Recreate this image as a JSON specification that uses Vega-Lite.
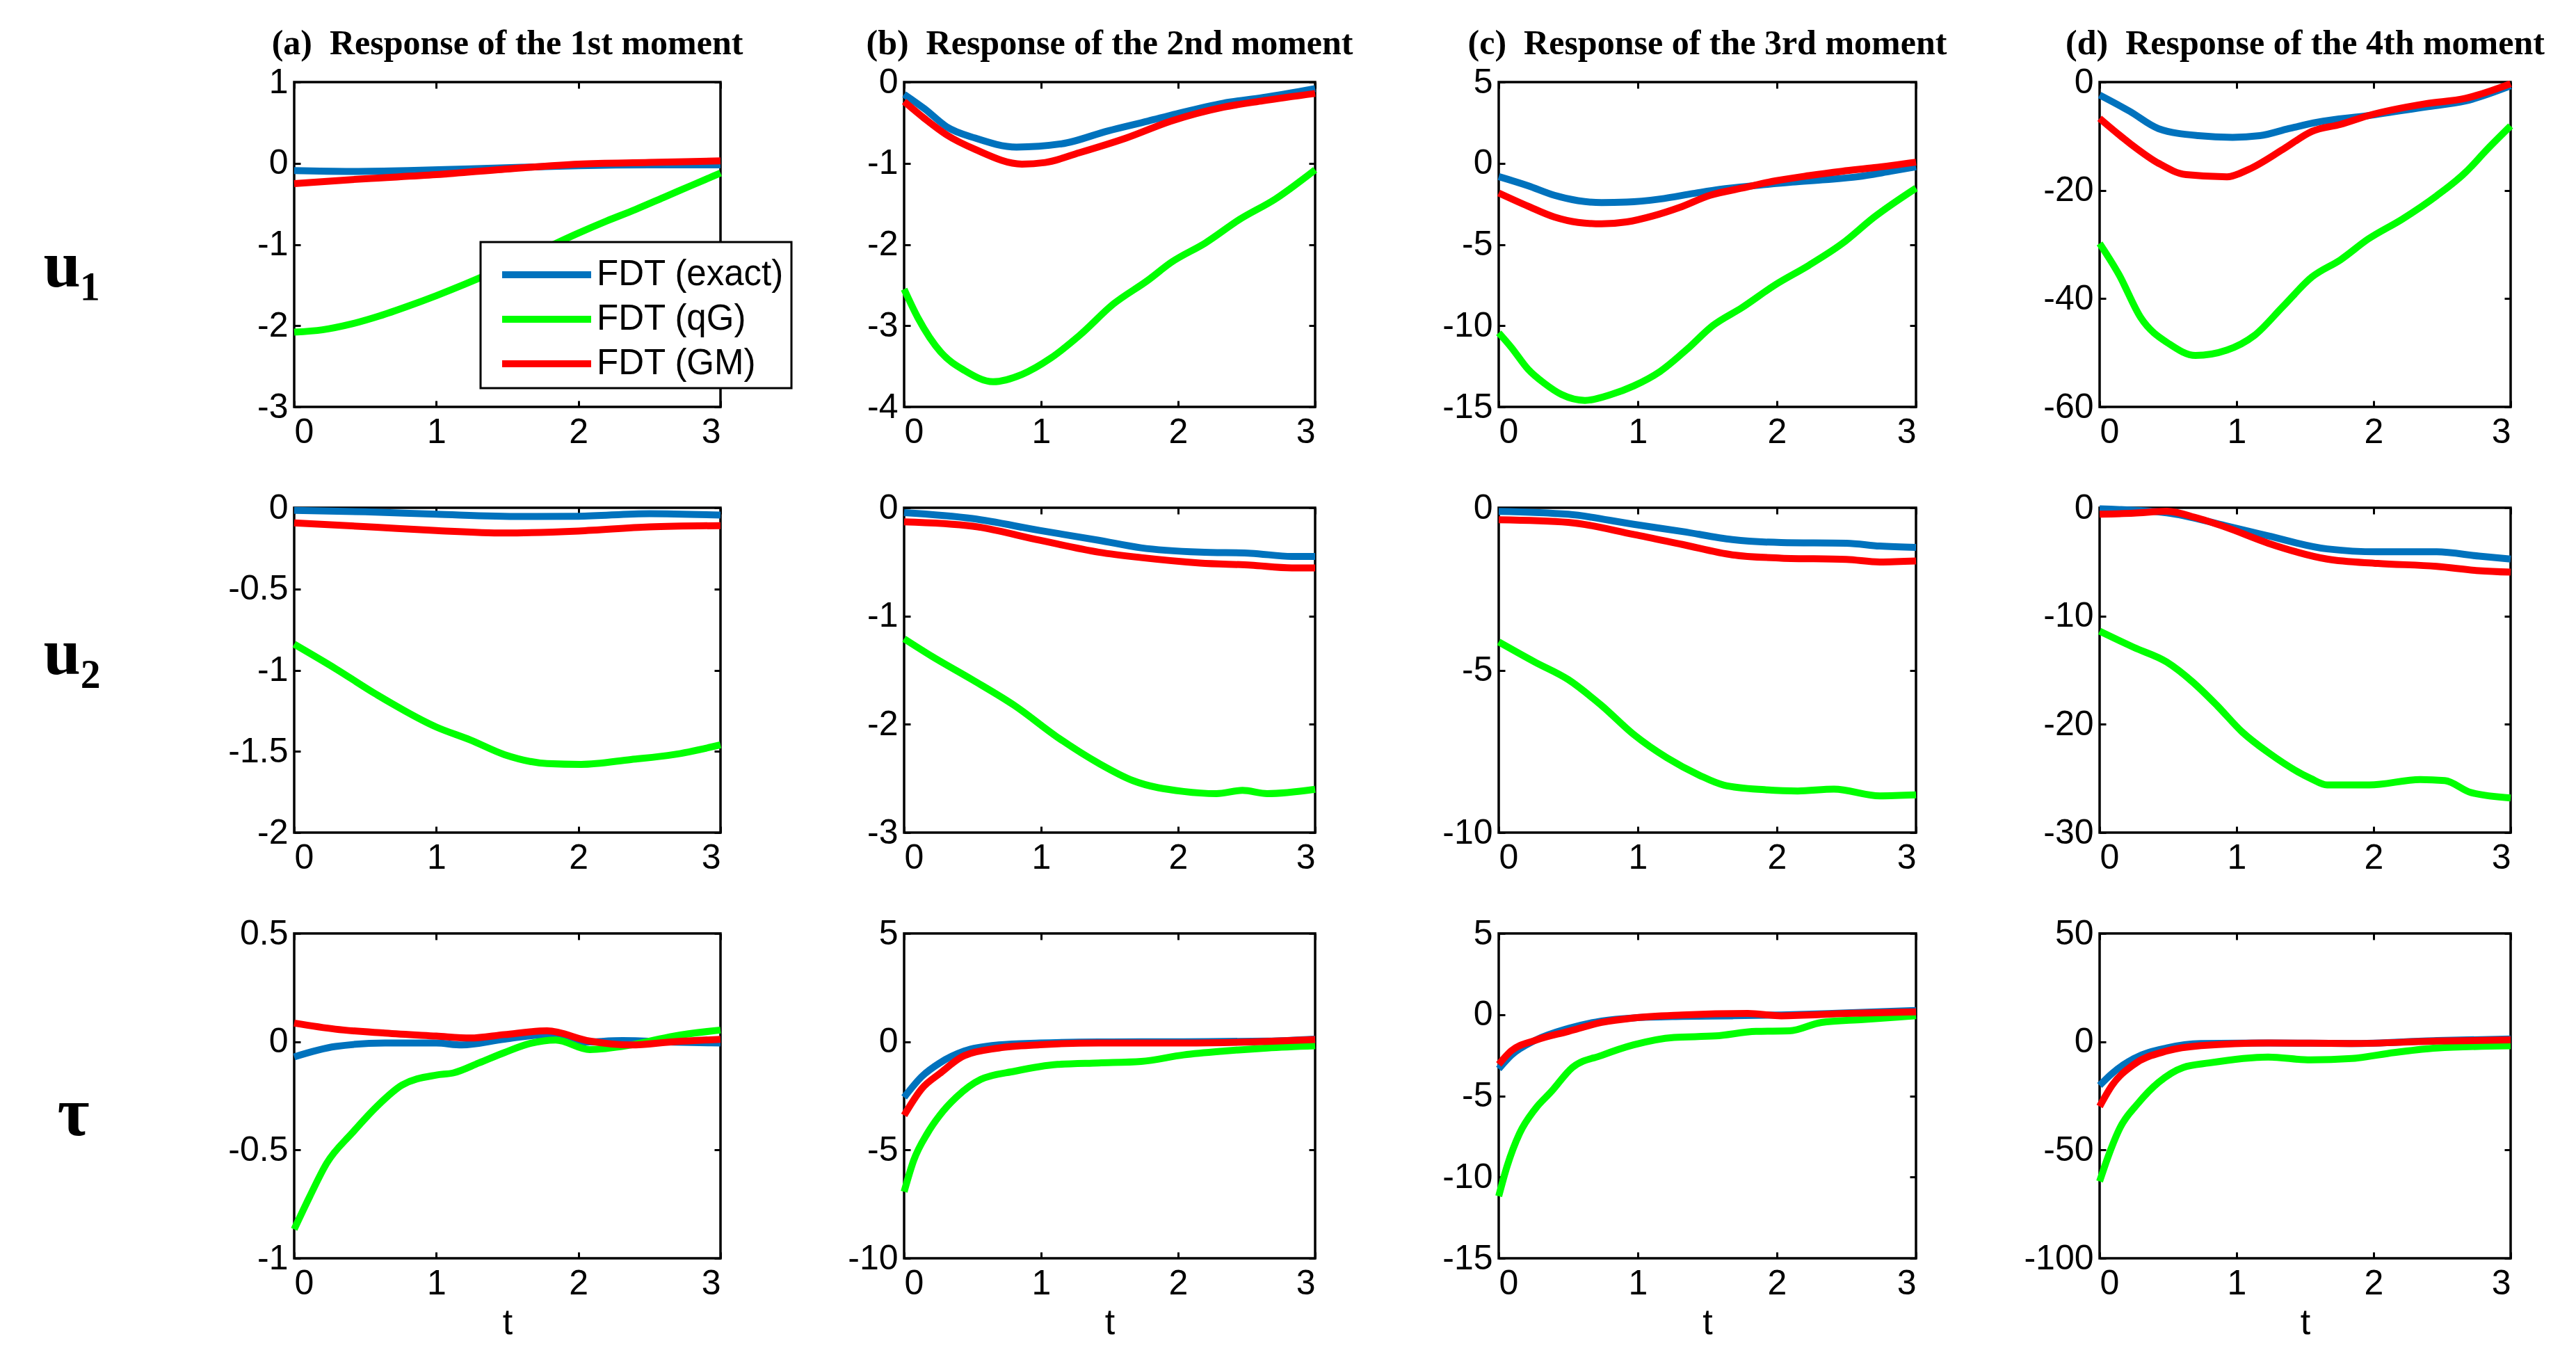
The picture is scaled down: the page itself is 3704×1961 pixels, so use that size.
{
"$schema": "https://vega.github.io/schema/vega-lite/v6.json",
"background": "white",
"padding": {"left": 60, "top": 36, "right": 20, "bottom": 20},
"columns": 4,
"spacing": {"row": 145, "column": 264},
"bounds": "flush",
"data": {"values": [
{"p":"a1","s":"FDT (exact)","t":0,"v":-0.09},{"p":"a1","s":"FDT (exact)","t":0.4,"v":-0.1},{"p":"a1","s":"FDT (exact)","t":0.8,"v":-0.09},{"p":"a1","s":"FDT (exact)","t":1.2,"v":-0.07},{"p":"a1","s":"FDT (exact)","t":1.6,"v":-0.05},{"p":"a1","s":"FDT (exact)","t":2,"v":-0.03},{"p":"a1","s":"FDT (exact)","t":2.5,"v":-0.02},{"p":"a1","s":"FDT (exact)","t":3,"v":-0.02},
{"p":"a1","s":"FDT (qG)","t":0,"v":-2.08},{"p":"a1","s":"FDT (qG)","t":0.2,"v":-2.05},{"p":"a1","s":"FDT (qG)","t":0.4,"v":-1.98},{"p":"a1","s":"FDT (qG)","t":0.6,"v":-1.88},{"p":"a1","s":"FDT (qG)","t":0.8,"v":-1.76},{"p":"a1","s":"FDT (qG)","t":1,"v":-1.63},{"p":"a1","s":"FDT (qG)","t":1.2,"v":-1.49},{"p":"a1","s":"FDT (qG)","t":1.4,"v":-1.34},{"p":"a1","s":"FDT (qG)","t":1.6,"v":-1.18},{"p":"a1","s":"FDT (qG)","t":1.8,"v":-1.02},{"p":"a1","s":"FDT (qG)","t":2,"v":-0.86},{"p":"a1","s":"FDT (qG)","t":2.2,"v":-0.71},{"p":"a1","s":"FDT (qG)","t":2.4,"v":-0.57},{"p":"a1","s":"FDT (qG)","t":2.6,"v":-0.42},{"p":"a1","s":"FDT (qG)","t":2.8,"v":-0.27},{"p":"a1","s":"FDT (qG)","t":3,"v":-0.12},
{"p":"a1","s":"FDT (GM)","t":0,"v":-0.25},{"p":"a1","s":"FDT (GM)","t":0.5,"v":-0.19},{"p":"a1","s":"FDT (GM)","t":1,"v":-0.14},{"p":"a1","s":"FDT (GM)","t":1.5,"v":-0.07},{"p":"a1","s":"FDT (GM)","t":2,"v":-0.01},{"p":"a1","s":"FDT (GM)","t":2.5,"v":0.01},{"p":"a1","s":"FDT (GM)","t":3,"v":0.03},

{"p":"b1","s":"FDT (exact)","t":0,"v":-0.15},{"p":"b1","s":"FDT (exact)","t":0.15,"v":-0.33},{"p":"b1","s":"FDT (exact)","t":0.31,"v":-0.55},{"p":"b1","s":"FDT (exact)","t":0.52,"v":-0.69},{"p":"b1","s":"FDT (exact)","t":0.82,"v":-0.8},{"p":"b1","s":"FDT (exact)","t":1.15,"v":-0.76},{"p":"b1","s":"FDT (exact)","t":1.49,"v":-0.6},{"p":"b1","s":"FDT (exact)","t":1.78,"v":-0.48},{"p":"b1","s":"FDT (exact)","t":1.99,"v":-0.39},{"p":"b1","s":"FDT (exact)","t":2.33,"v":-0.26},{"p":"b1","s":"FDT (exact)","t":2.62,"v":-0.19},{"p":"b1","s":"FDT (exact)","t":3,"v":-0.08},
{"p":"b1","s":"FDT (qG)","t":0,"v":-2.55},{"p":"b1","s":"FDT (qG)","t":0.1,"v":-2.9},{"p":"b1","s":"FDT (qG)","t":0.27,"v":-3.33},{"p":"b1","s":"FDT (qG)","t":0.44,"v":-3.55},{"p":"b1","s":"FDT (qG)","t":0.65,"v":-3.69},{"p":"b1","s":"FDT (qG)","t":0.86,"v":-3.6},{"p":"b1","s":"FDT (qG)","t":1.07,"v":-3.4},{"p":"b1","s":"FDT (qG)","t":1.28,"v":-3.12},{"p":"b1","s":"FDT (qG)","t":1.53,"v":-2.73},{"p":"b1","s":"FDT (qG)","t":1.78,"v":-2.44},{"p":"b1","s":"FDT (qG)","t":1.95,"v":-2.22},{"p":"b1","s":"FDT (qG)","t":2.2,"v":-1.98},{"p":"b1","s":"FDT (qG)","t":2.45,"v":-1.69},{"p":"b1","s":"FDT (qG)","t":2.71,"v":-1.44},{"p":"b1","s":"FDT (qG)","t":3,"v":-1.08},
{"p":"b1","s":"FDT (GM)","t":0,"v":-0.24},{"p":"b1","s":"FDT (GM)","t":0.15,"v":-0.45},{"p":"b1","s":"FDT (GM)","t":0.31,"v":-0.65},{"p":"b1","s":"FDT (GM)","t":0.52,"v":-0.83},{"p":"b1","s":"FDT (GM)","t":0.86,"v":-1.01},{"p":"b1","s":"FDT (GM)","t":1.03,"v":-0.99},{"p":"b1","s":"FDT (GM)","t":1.28,"v":-0.87},{"p":"b1","s":"FDT (GM)","t":1.62,"v":-0.69},{"p":"b1","s":"FDT (GM)","t":1.95,"v":-0.48},{"p":"b1","s":"FDT (GM)","t":2.33,"v":-0.31},{"p":"b1","s":"FDT (GM)","t":2.62,"v":-0.23},{"p":"b1","s":"FDT (GM)","t":3,"v":-0.14},

{"p":"c1","s":"FDT (exact)","t":0,"v":-0.82},{"p":"c1","s":"FDT (exact)","t":0.21,"v":-1.38},{"p":"c1","s":"FDT (exact)","t":0.4,"v":-1.97},{"p":"c1","s":"FDT (exact)","t":0.57,"v":-2.3},{"p":"c1","s":"FDT (exact)","t":0.74,"v":-2.42},{"p":"c1","s":"FDT (exact)","t":0.92,"v":-2.39},{"p":"c1","s":"FDT (exact)","t":1.16,"v":-2.2},{"p":"c1","s":"FDT (exact)","t":1.4,"v":-1.86},{"p":"c1","s":"FDT (exact)","t":1.59,"v":-1.6},{"p":"c1","s":"FDT (exact)","t":1.87,"v":-1.35},{"p":"c1","s":"FDT (exact)","t":2.11,"v":-1.16},{"p":"c1","s":"FDT (exact)","t":2.35,"v":-1.01},{"p":"c1","s":"FDT (exact)","t":2.58,"v":-0.83},{"p":"c1","s":"FDT (exact)","t":2.82,"v":-0.49},{"p":"c1","s":"FDT (exact)","t":3,"v":-0.22},
{"p":"c1","s":"FDT (qG)","t":0,"v":-10.44},{"p":"c1","s":"FDT (qG)","t":0.09,"v":-11.33},{"p":"c1","s":"FDT (qG)","t":0.21,"v":-12.67},{"p":"c1","s":"FDT (qG)","t":0.33,"v":-13.56},{"p":"c1","s":"FDT (qG)","t":0.45,"v":-14.23},{"p":"c1","s":"FDT (qG)","t":0.62,"v":-14.6},{"p":"c1","s":"FDT (qG)","t":0.81,"v":-14.23},{"p":"c1","s":"FDT (qG)","t":0.97,"v":-13.71},{"p":"c1","s":"FDT (qG)","t":1.16,"v":-12.82},{"p":"c1","s":"FDT (qG)","t":1.35,"v":-11.48},{"p":"c1","s":"FDT (qG)","t":1.54,"v":-9.99},{"p":"c1","s":"FDT (qG)","t":1.75,"v":-8.88},{"p":"c1","s":"FDT (qG)","t":1.99,"v":-7.47},{"p":"c1","s":"FDT (qG)","t":2.23,"v":-6.28},{"p":"c1","s":"FDT (qG)","t":2.47,"v":-4.94},{"p":"c1","s":"FDT (qG)","t":2.7,"v":-3.31},{"p":"c1","s":"FDT (qG)","t":3,"v":-1.53},
{"p":"c1","s":"FDT (GM)","t":0,"v":-1.83},{"p":"c1","s":"FDT (GM)","t":0.21,"v":-2.64},{"p":"c1","s":"FDT (GM)","t":0.4,"v":-3.31},{"p":"c1","s":"FDT (GM)","t":0.57,"v":-3.64},{"p":"c1","s":"FDT (GM)","t":0.74,"v":-3.73},{"p":"c1","s":"FDT (GM)","t":0.92,"v":-3.61},{"p":"c1","s":"FDT (GM)","t":1.11,"v":-3.24},{"p":"c1","s":"FDT (GM)","t":1.3,"v":-2.72},{"p":"c1","s":"FDT (GM)","t":1.52,"v":-1.97},{"p":"c1","s":"FDT (GM)","t":1.75,"v":-1.53},{"p":"c1","s":"FDT (GM)","t":1.99,"v":-1.08},{"p":"c1","s":"FDT (GM)","t":2.23,"v":-0.76},{"p":"c1","s":"FDT (GM)","t":2.47,"v":-0.49},{"p":"c1","s":"FDT (GM)","t":2.7,"v":-0.27},{"p":"c1","s":"FDT (GM)","t":3,"v":0.07},

{"p":"d1","s":"FDT (exact)","t":0,"v":-2.4},{"p":"d1","s":"FDT (exact)","t":0.22,"v":-5.4},{"p":"d1","s":"FDT (exact)","t":0.43,"v":-8.6},{"p":"d1","s":"FDT (exact)","t":0.72,"v":-9.9},{"p":"d1","s":"FDT (exact)","t":0.97,"v":-10.2},{"p":"d1","s":"FDT (exact)","t":1.17,"v":-9.9},{"p":"d1","s":"FDT (exact)","t":1.38,"v":-8.6},{"p":"d1","s":"FDT (exact)","t":1.59,"v":-7.4},{"p":"d1","s":"FDT (exact)","t":1.96,"v":-6.2},{"p":"d1","s":"FDT (exact)","t":2.38,"v":-4.6},{"p":"d1","s":"FDT (exact)","t":2.67,"v":-3.5},{"p":"d1","s":"FDT (exact)","t":3,"v":-0.7},
{"p":"d1","s":"FDT (qG)","t":0,"v":-29.8},{"p":"d1","s":"FDT (qG)","t":0.14,"v":-35.5},{"p":"d1","s":"FDT (qG)","t":0.3,"v":-43.5},{"p":"d1","s":"FDT (qG)","t":0.51,"v":-48.4},{"p":"d1","s":"FDT (qG)","t":0.7,"v":-50.5},{"p":"d1","s":"FDT (qG)","t":0.93,"v":-49.5},{"p":"d1","s":"FDT (qG)","t":1.13,"v":-46.8},{"p":"d1","s":"FDT (qG)","t":1.34,"v":-41.4},{"p":"d1","s":"FDT (qG)","t":1.55,"v":-36},{"p":"d1","s":"FDT (qG)","t":1.76,"v":-32.8},{"p":"d1","s":"FDT (qG)","t":1.96,"v":-29},{"p":"d1","s":"FDT (qG)","t":2.21,"v":-25.3},{"p":"d1","s":"FDT (qG)","t":2.46,"v":-21},{"p":"d1","s":"FDT (qG)","t":2.67,"v":-16.7},{"p":"d1","s":"FDT (qG)","t":2.83,"v":-12.4},{"p":"d1","s":"FDT (qG)","t":3,"v":-8.1},
{"p":"d1","s":"FDT (GM)","t":0,"v":-6.7},{"p":"d1","s":"FDT (GM)","t":0.22,"v":-11.3},{"p":"d1","s":"FDT (GM)","t":0.43,"v":-15},{"p":"d1","s":"FDT (GM)","t":0.63,"v":-17.1},{"p":"d1","s":"FDT (GM)","t":0.93,"v":-17.5},{"p":"d1","s":"FDT (GM)","t":1.09,"v":-16.1},{"p":"d1","s":"FDT (GM)","t":1.34,"v":-12.4},{"p":"d1","s":"FDT (GM)","t":1.55,"v":-9.1},{"p":"d1","s":"FDT (GM)","t":1.76,"v":-7.8},{"p":"d1","s":"FDT (GM)","t":1.96,"v":-6.2},{"p":"d1","s":"FDT (GM)","t":2.38,"v":-4},{"p":"d1","s":"FDT (GM)","t":2.67,"v":-3},{"p":"d1","s":"FDT (GM)","t":3,"v":-0.3},

{"p":"a2","s":"FDT (exact)","t":0,"v":-0.016},{"p":"a2","s":"FDT (exact)","t":0.5,"v":-0.025},{"p":"a2","s":"FDT (exact)","t":1,"v":-0.04},{"p":"a2","s":"FDT (exact)","t":1.6,"v":-0.054},{"p":"a2","s":"FDT (exact)","t":2,"v":-0.052},{"p":"a2","s":"FDT (exact)","t":2.5,"v":-0.036},{"p":"a2","s":"FDT (exact)","t":3,"v":-0.045},
{"p":"a2","s":"FDT (qG)","t":0,"v":-0.84},{"p":"a2","s":"FDT (qG)","t":0.29,"v":-0.99},{"p":"a2","s":"FDT (qG)","t":0.58,"v":-1.15},{"p":"a2","s":"FDT (qG)","t":1,"v":-1.35},{"p":"a2","s":"FDT (qG)","t":1.24,"v":-1.43},{"p":"a2","s":"FDT (qG)","t":1.48,"v":-1.52},{"p":"a2","s":"FDT (qG)","t":1.78,"v":-1.575},{"p":"a2","s":"FDT (qG)","t":2.02,"v":-1.58},{"p":"a2","s":"FDT (qG)","t":2.37,"v":-1.55},{"p":"a2","s":"FDT (qG)","t":2.67,"v":-1.52},{"p":"a2","s":"FDT (qG)","t":3,"v":-1.46},
{"p":"a2","s":"FDT (GM)","t":0,"v":-0.093},{"p":"a2","s":"FDT (GM)","t":0.58,"v":-0.12},{"p":"a2","s":"FDT (GM)","t":1,"v":-0.14},{"p":"a2","s":"FDT (GM)","t":1.48,"v":-0.155},{"p":"a2","s":"FDT (GM)","t":2,"v":-0.143},{"p":"a2","s":"FDT (GM)","t":2.5,"v":-0.118},{"p":"a2","s":"FDT (GM)","t":3,"v":-0.11},

{"p":"b2","s":"FDT (exact)","t":0,"v":-0.045},{"p":"b2","s":"FDT (exact)","t":0.5,"v":-0.1},{"p":"b2","s":"FDT (exact)","t":0.99,"v":-0.21},{"p":"b2","s":"FDT (exact)","t":1.42,"v":-0.3},{"p":"b2","s":"FDT (exact)","t":1.73,"v":-0.37},{"p":"b2","s":"FDT (exact)","t":2.16,"v":-0.41},{"p":"b2","s":"FDT (exact)","t":2.53,"v":-0.42},{"p":"b2","s":"FDT (exact)","t":2.83,"v":-0.45},{"p":"b2","s":"FDT (exact)","t":3,"v":-0.45},
{"p":"b2","s":"FDT (qG)","t":0,"v":-1.21},{"p":"b2","s":"FDT (qG)","t":0.2,"v":-1.37},{"p":"b2","s":"FDT (qG)","t":0.5,"v":-1.59},{"p":"b2","s":"FDT (qG)","t":0.81,"v":-1.83},{"p":"b2","s":"FDT (qG)","t":1.12,"v":-2.12},{"p":"b2","s":"FDT (qG)","t":1.42,"v":-2.36},{"p":"b2","s":"FDT (qG)","t":1.67,"v":-2.52},{"p":"b2","s":"FDT (qG)","t":2.04,"v":-2.62},{"p":"b2","s":"FDT (qG)","t":2.28,"v":-2.64},{"p":"b2","s":"FDT (qG)","t":2.47,"v":-2.61},{"p":"b2","s":"FDT (qG)","t":2.65,"v":-2.64},{"p":"b2","s":"FDT (qG)","t":3,"v":-2.6},
{"p":"b2","s":"FDT (GM)","t":0,"v":-0.13},{"p":"b2","s":"FDT (GM)","t":0.5,"v":-0.17},{"p":"b2","s":"FDT (GM)","t":0.99,"v":-0.3},{"p":"b2","s":"FDT (GM)","t":1.42,"v":-0.41},{"p":"b2","s":"FDT (GM)","t":1.73,"v":-0.46},{"p":"b2","s":"FDT (GM)","t":2.16,"v":-0.51},{"p":"b2","s":"FDT (GM)","t":2.53,"v":-0.53},{"p":"b2","s":"FDT (GM)","t":2.83,"v":-0.555},{"p":"b2","s":"FDT (GM)","t":3,"v":-0.555},

{"p":"c2","s":"FDT (exact)","t":0,"v":-0.11},{"p":"c2","s":"FDT (exact)","t":0.5,"v":-0.2},{"p":"c2","s":"FDT (exact)","t":0.97,"v":-0.51},{"p":"c2","s":"FDT (exact)","t":1.32,"v":-0.73},{"p":"c2","s":"FDT (exact)","t":1.68,"v":-0.98},{"p":"c2","s":"FDT (exact)","t":2.03,"v":-1.07},{"p":"c2","s":"FDT (exact)","t":2.5,"v":-1.09},{"p":"c2","s":"FDT (exact)","t":2.74,"v":-1.18},{"p":"c2","s":"FDT (exact)","t":3,"v":-1.22},
{"p":"c2","s":"FDT (qG)","t":0,"v":-4.13},{"p":"c2","s":"FDT (qG)","t":0.26,"v":-4.75},{"p":"c2","s":"FDT (qG)","t":0.5,"v":-5.29},{"p":"c2","s":"FDT (qG)","t":0.74,"v":-6.09},{"p":"c2","s":"FDT (qG)","t":0.97,"v":-6.98},{"p":"c2","s":"FDT (qG)","t":1.21,"v":-7.7},{"p":"c2","s":"FDT (qG)","t":1.44,"v":-8.23},{"p":"c2","s":"FDT (qG)","t":1.62,"v":-8.54},{"p":"c2","s":"FDT (qG)","t":1.91,"v":-8.68},{"p":"c2","s":"FDT (qG)","t":2.15,"v":-8.72},{"p":"c2","s":"FDT (qG)","t":2.41,"v":-8.66},{"p":"c2","s":"FDT (qG)","t":2.74,"v":-8.87},{"p":"c2","s":"FDT (qG)","t":3,"v":-8.84},
{"p":"c2","s":"FDT (GM)","t":0,"v":-0.37},{"p":"c2","s":"FDT (GM)","t":0.5,"v":-0.45},{"p":"c2","s":"FDT (GM)","t":0.97,"v":-0.82},{"p":"c2","s":"FDT (GM)","t":1.32,"v":-1.13},{"p":"c2","s":"FDT (GM)","t":1.68,"v":-1.45},{"p":"c2","s":"FDT (GM)","t":2.03,"v":-1.55},{"p":"c2","s":"FDT (GM)","t":2.5,"v":-1.59},{"p":"c2","s":"FDT (GM)","t":2.74,"v":-1.67},{"p":"c2","s":"FDT (GM)","t":3,"v":-1.64},

{"p":"d2","s":"FDT (exact)","t":0,"v":-0.1},{"p":"d2","s":"FDT (exact)","t":0.49,"v":-0.46},{"p":"d2","s":"FDT (exact)","t":0.92,"v":-1.66},{"p":"d2","s":"FDT (exact)","t":1.23,"v":-2.6},{"p":"d2","s":"FDT (exact)","t":1.66,"v":-3.8},{"p":"d2","s":"FDT (exact)","t":2.03,"v":-4.07},{"p":"d2","s":"FDT (exact)","t":2.46,"v":-4.07},{"p":"d2","s":"FDT (exact)","t":2.77,"v":-4.47},{"p":"d2","s":"FDT (exact)","t":3,"v":-4.74},
{"p":"d2","s":"FDT (qG)","t":0,"v":-11.4},{"p":"d2","s":"FDT (qG)","t":0.25,"v":-12.9},{"p":"d2","s":"FDT (qG)","t":0.49,"v":-14.25},{"p":"d2","s":"FDT (qG)","t":0.68,"v":-16.1},{"p":"d2","s":"FDT (qG)","t":0.86,"v":-18.3},{"p":"d2","s":"FDT (qG)","t":1.04,"v":-20.7},{"p":"d2","s":"FDT (qG)","t":1.23,"v":-22.6},{"p":"d2","s":"FDT (qG)","t":1.54,"v":-25},{"p":"d2","s":"FDT (qG)","t":1.66,"v":-25.6},{"p":"d2","s":"FDT (qG)","t":1.97,"v":-25.6},{"p":"d2","s":"FDT (qG)","t":2.34,"v":-25.1},{"p":"d2","s":"FDT (qG)","t":2.52,"v":-25.2},{"p":"d2","s":"FDT (qG)","t":2.71,"v":-26.3},{"p":"d2","s":"FDT (qG)","t":3,"v":-26.8},
{"p":"d2","s":"FDT (GM)","t":0,"v":-0.59},{"p":"d2","s":"FDT (GM)","t":0.25,"v":-0.5},{"p":"d2","s":"FDT (GM)","t":0.49,"v":-0.32},{"p":"d2","s":"FDT (GM)","t":0.7,"v":-0.9},{"p":"d2","s":"FDT (GM)","t":0.92,"v":-1.79},{"p":"d2","s":"FDT (GM)","t":1.23,"v":-3.27},{"p":"d2","s":"FDT (GM)","t":1.66,"v":-4.74},{"p":"d2","s":"FDT (GM)","t":2.03,"v":-5.14},{"p":"d2","s":"FDT (GM)","t":2.46,"v":-5.41},{"p":"d2","s":"FDT (GM)","t":2.77,"v":-5.81},{"p":"d2","s":"FDT (GM)","t":3,"v":-5.95},

{"p":"a3","s":"FDT (exact)","t":0,"v":-0.07},{"p":"a3","s":"FDT (exact)","t":0.29,"v":-0.022},{"p":"a3","s":"FDT (exact)","t":0.64,"v":-0.006},{"p":"a3","s":"FDT (exact)","t":1,"v":-0.006},{"p":"a3","s":"FDT (exact)","t":1.18,"v":-0.015},{"p":"a3","s":"FDT (exact)","t":1.48,"v":0.012},{"p":"a3","s":"FDT (exact)","t":1.78,"v":0.033},{"p":"a3","s":"FDT (exact)","t":2.02,"v":-0.002},{"p":"a3","s":"FDT (exact)","t":2.31,"v":0.005},{"p":"a3","s":"FDT (exact)","t":2.67,"v":-0.002},{"p":"a3","s":"FDT (exact)","t":3,"v":-0.006},
{"p":"a3","s":"FDT (qG)","t":0,"v":-0.866},{"p":"a3","s":"FDT (qG)","t":0.11,"v":-0.714},{"p":"a3","s":"FDT (qG)","t":0.23,"v":-0.56},{"p":"a3","s":"FDT (qG)","t":0.41,"v":-0.42},{"p":"a3","s":"FDT (qG)","t":0.58,"v":-0.3},{"p":"a3","s":"FDT (qG)","t":0.76,"v":-0.2},{"p":"a3","s":"FDT (qG)","t":1,"v":-0.154},{"p":"a3","s":"FDT (qG)","t":1.12,"v":-0.144},{"p":"a3","s":"FDT (qG)","t":1.3,"v":-0.098},{"p":"a3","s":"FDT (qG)","t":1.48,"v":-0.05},{"p":"a3","s":"FDT (qG)","t":1.66,"v":-0.008},{"p":"a3","s":"FDT (qG)","t":1.84,"v":0.008},{"p":"a3","s":"FDT (qG)","t":2.08,"v":-0.036},{"p":"a3","s":"FDT (qG)","t":2.37,"v":-0.015},{"p":"a3","s":"FDT (qG)","t":2.67,"v":0.026},{"p":"a3","s":"FDT (qG)","t":3,"v":0.054},
{"p":"a3","s":"FDT (GM)","t":0,"v":0.086},{"p":"a3","s":"FDT (GM)","t":0.29,"v":0.058},{"p":"a3","s":"FDT (GM)","t":0.64,"v":0.04},{"p":"a3","s":"FDT (GM)","t":1,"v":0.026},{"p":"a3","s":"FDT (GM)","t":1.24,"v":0.017},{"p":"a3","s":"FDT (GM)","t":1.48,"v":0.033},{"p":"a3","s":"FDT (GM)","t":1.78,"v":0.05},{"p":"a3","s":"FDT (GM)","t":2.08,"v":0.003},{"p":"a3","s":"FDT (GM)","t":2.37,"v":-0.015},{"p":"a3","s":"FDT (GM)","t":2.67,"v":0},{"p":"a3","s":"FDT (GM)","t":3,"v":0.011},

{"p":"b3","s":"FDT (exact)","t":0,"v":-2.57},{"p":"b3","s":"FDT (exact)","t":0.13,"v":-1.6},{"p":"b3","s":"FDT (exact)","t":0.26,"v":-0.98},{"p":"b3","s":"FDT (exact)","t":0.44,"v":-0.43},{"p":"b3","s":"FDT (exact)","t":0.69,"v":-0.15},{"p":"b3","s":"FDT (exact)","t":0.99,"v":-0.06},{"p":"b3","s":"FDT (exact)","t":1.42,"v":-0.01},{"p":"b3","s":"FDT (exact)","t":2.04,"v":0},{"p":"b3","s":"FDT (exact)","t":2.65,"v":0.03},{"p":"b3","s":"FDT (exact)","t":3,"v":0.12},
{"p":"b3","s":"FDT (qG)","t":0,"v":-6.93},{"p":"b3","s":"FDT (qG)","t":0.07,"v":-5.48},{"p":"b3","s":"FDT (qG)","t":0.17,"v":-4.23},{"p":"b3","s":"FDT (qG)","t":0.26,"v":-3.4},{"p":"b3","s":"FDT (qG)","t":0.38,"v":-2.57},{"p":"b3","s":"FDT (qG)","t":0.56,"v":-1.74},{"p":"b3","s":"FDT (qG)","t":0.81,"v":-1.36},{"p":"b3","s":"FDT (qG)","t":1.12,"v":-1.05},{"p":"b3","s":"FDT (qG)","t":1.42,"v":-0.98},{"p":"b3","s":"FDT (qG)","t":1.73,"v":-0.91},{"p":"b3","s":"FDT (qG)","t":2.04,"v":-0.61},{"p":"b3","s":"FDT (qG)","t":2.34,"v":-0.43},{"p":"b3","s":"FDT (qG)","t":2.65,"v":-0.29},{"p":"b3","s":"FDT (qG)","t":3,"v":-0.19},
{"p":"b3","s":"FDT (GM)","t":0,"v":-3.4},{"p":"b3","s":"FDT (GM)","t":0.13,"v":-2.16},{"p":"b3","s":"FDT (GM)","t":0.26,"v":-1.47},{"p":"b3","s":"FDT (GM)","t":0.44,"v":-0.64},{"p":"b3","s":"FDT (GM)","t":0.69,"v":-0.29},{"p":"b3","s":"FDT (GM)","t":0.99,"v":-0.14},{"p":"b3","s":"FDT (GM)","t":1.42,"v":-0.06},{"p":"b3","s":"FDT (GM)","t":2.04,"v":-0.06},{"p":"b3","s":"FDT (GM)","t":2.65,"v":0.01},{"p":"b3","s":"FDT (GM)","t":3,"v":0.1},

{"p":"c3","s":"FDT (exact)","t":0,"v":-3.34},{"p":"c3","s":"FDT (exact)","t":0.09,"v":-2.5},{"p":"c3","s":"FDT (exact)","t":0.26,"v":-1.59},{"p":"c3","s":"FDT (exact)","t":0.5,"v":-0.85},{"p":"c3","s":"FDT (exact)","t":0.74,"v":-0.39},{"p":"c3","s":"FDT (exact)","t":0.97,"v":-0.2},{"p":"c3","s":"FDT (exact)","t":1.32,"v":-0.11},{"p":"c3","s":"FDT (exact)","t":1.68,"v":-0.07},{"p":"c3","s":"FDT (exact)","t":2.03,"v":-0.02},{"p":"c3","s":"FDT (exact)","t":2.5,"v":0.11},{"p":"c3","s":"FDT (exact)","t":3,"v":0.26},
{"p":"c3","s":"FDT (qG)","t":0,"v":-11.18},{"p":"c3","s":"FDT (qG)","t":0.06,"v":-9.34},{"p":"c3","s":"FDT (qG)","t":0.15,"v":-7.31},{"p":"c3","s":"FDT (qG)","t":0.26,"v":-5.83},{"p":"c3","s":"FDT (qG)","t":0.38,"v":-4.72},{"p":"c3","s":"FDT (qG)","t":0.53,"v":-3.25},{"p":"c3","s":"FDT (qG)","t":0.74,"v":-2.51},{"p":"c3","s":"FDT (qG)","t":0.97,"v":-1.86},{"p":"c3","s":"FDT (qG)","t":1.26,"v":-1.4},{"p":"c3","s":"FDT (qG)","t":1.56,"v":-1.31},{"p":"c3","s":"FDT (qG)","t":1.85,"v":-1.03},{"p":"c3","s":"FDT (qG)","t":2.09,"v":-1},{"p":"c3","s":"FDT (qG)","t":2.32,"v":-0.48},{"p":"c3","s":"FDT (qG)","t":2.62,"v":-0.3},{"p":"c3","s":"FDT (qG)","t":3,"v":-0.07},
{"p":"c3","s":"FDT (GM)","t":0,"v":-3.06},{"p":"c3","s":"FDT (GM)","t":0.09,"v":-2.23},{"p":"c3","s":"FDT (GM)","t":0.26,"v":-1.59},{"p":"c3","s":"FDT (GM)","t":0.5,"v":-1.03},{"p":"c3","s":"FDT (GM)","t":0.74,"v":-0.48},{"p":"c3","s":"FDT (GM)","t":0.97,"v":-0.2},{"p":"c3","s":"FDT (GM)","t":1.32,"v":-0.02},{"p":"c3","s":"FDT (GM)","t":1.79,"v":0.07},{"p":"c3","s":"FDT (GM)","t":2.03,"v":-0.07},{"p":"c3","s":"FDT (GM)","t":2.5,"v":0.07},{"p":"c3","s":"FDT (GM)","t":3,"v":0.17},

{"p":"d3","s":"FDT (exact)","t":0,"v":-20.2},{"p":"d3","s":"FDT (exact)","t":0.09,"v":-14.7},{"p":"d3","s":"FDT (exact)","t":0.25,"v":-7.75},{"p":"d3","s":"FDT (exact)","t":0.49,"v":-2.9},{"p":"d3","s":"FDT (exact)","t":0.74,"v":-0.83},{"p":"d3","s":"FDT (exact)","t":1.23,"v":-0.55},{"p":"d3","s":"FDT (exact)","t":1.84,"v":-0.83},{"p":"d3","s":"FDT (exact)","t":2.46,"v":0.55},{"p":"d3","s":"FDT (exact)","t":3,"v":1.25},
{"p":"d3","s":"FDT (qG)","t":0,"v":-64.5},{"p":"d3","s":"FDT (qG)","t":0.06,"v":-53.4},{"p":"d3","s":"FDT (qG)","t":0.15,"v":-39.6},{"p":"d3","s":"FDT (qG)","t":0.28,"v":-28.5},{"p":"d3","s":"FDT (qG)","t":0.43,"v":-18.8},{"p":"d3","s":"FDT (qG)","t":0.61,"v":-11.9},{"p":"d3","s":"FDT (qG)","t":0.8,"v":-9.8},{"p":"d3","s":"FDT (qG)","t":1.23,"v":-7.1},{"p":"d3","s":"FDT (qG)","t":1.54,"v":-8.4},{"p":"d3","s":"FDT (qG)","t":1.84,"v":-7.75},{"p":"d3","s":"FDT (qG)","t":2.15,"v":-5},{"p":"d3","s":"FDT (qG)","t":2.46,"v":-2.9},{"p":"d3","s":"FDT (qG)","t":3,"v":-1.9},
{"p":"d3","s":"FDT (GM)","t":0,"v":-29.9},{"p":"d3","s":"FDT (GM)","t":0.09,"v":-20.2},{"p":"d3","s":"FDT (GM)","t":0.25,"v":-10.5},{"p":"d3","s":"FDT (GM)","t":0.49,"v":-4.3},{"p":"d3","s":"FDT (GM)","t":0.74,"v":-1.8},{"p":"d3","s":"FDT (GM)","t":1.23,"v":-0.55},{"p":"d3","s":"FDT (GM)","t":1.84,"v":-0.83},{"p":"d3","s":"FDT (GM)","t":2.46,"v":0.28},{"p":"d3","s":"FDT (GM)","t":3,"v":0.83}
]},
"concat": [
{"width": 613, "height": 467, "title": {"text": "(a)\u00a0\u00a0Response of the 1st moment"},
 "transform": [{"filter": "datum.p === 'a1'"}],
 "layer": [
  {"mark": "line", "encoding": {
    "x": {"field": "t", "type": "quantitative", "scale": {"domain": [0, 3], "nice": false}, "axis": {"values": [0, 1, 2, 3], "title": null}},
    "y": {"field": "v", "type": "quantitative", "scale": {"domain": [-3, 1], "nice": false, "zero": false}, "axis": {"values": [-3, -2, -1, 0, 1], "labelExpr": "'' + datum.value", "title": "u₁", "titleAngle": 0, "titleFont": "Liberation Serif", "titleFontWeight": "bold", "titleFontSize": 96, "titleAlign": "center", "titleBaseline": "alphabetic", "titleX": -320, "titleY": 293}},
    "color": {"field": "s", "type": "nominal", "scale": {"domain": ["FDT (exact)", "FDT (qG)", "FDT (GM)"], "range": ["#0072BD", "#00FF00", "#FF0000"]},
      "legend": {"orient": "none", "legendX": 268, "legendY": 230, "title": null, "symbolType": "M-2,0H2", "symbolSize": 4096, "symbolStrokeWidth": 10, "symbolOffset": 48, "labelFont": "Liberation Sans", "labelFontSize": 51, "labelColor": "black", "labelLimit": 600, "labelOffset": 35, "rowPadding": 2, "padding": 10, "strokeColor": "black", "fillColor": "white"}}}},
  {"mark": {"type": "line", "strokeOpacity": 0}, "encoding": {
    "x": {"field": "t", "type": "quantitative", "axis": {"orient": "top", "values": [0, 1, 2, 3], "title": null}},
    "y": {"field": "v", "type": "quantitative", "axis": {"orient": "right", "values": [-3, -2, -1, 0, 1], "title": null}}}}
 ],
 "resolve": {"axis": {"x": "independent", "y": "independent"}}},
{"width": 591, "height": 467, "title": {"text": "(b)\u00a0\u00a0Response of the 2nd moment"},
 "transform": [{"filter": "datum.p === 'b1'"}],
 "layer": [
  {"mark": "line", "encoding": {
    "x": {"field": "t", "type": "quantitative", "scale": {"domain": [0, 3], "nice": false}, "axis": {"values": [0, 1, 2, 3], "title": null}},
    "y": {"field": "v", "type": "quantitative", "scale": {"domain": [-4, 0], "nice": false, "zero": false}, "axis": {"values": [-4, -3, -2, -1, 0], "labelExpr": "'' + datum.value", "title": null}},
    "color": {"field": "s", "type": "nominal", "scale": {"domain": ["FDT (exact)", "FDT (qG)", "FDT (GM)"], "range": ["#0072BD", "#00FF00", "#FF0000"]}}}},
  {"mark": {"type": "line", "strokeOpacity": 0}, "encoding": {
    "x": {"field": "t", "type": "quantitative", "axis": {"orient": "top", "values": [0, 1, 2, 3], "title": null}},
    "y": {"field": "v", "type": "quantitative", "axis": {"orient": "right", "values": [-4, -3, -2, -1, 0], "title": null}}}}
 ],
 "resolve": {"axis": {"x": "independent", "y": "independent"}}},
{"width": 600, "height": 467, "title": {"text": "(c)\u00a0\u00a0Response of the 3rd moment"},
 "transform": [{"filter": "datum.p === 'c1'"}],
 "layer": [
  {"mark": "line", "encoding": {
    "x": {"field": "t", "type": "quantitative", "scale": {"domain": [0, 3], "nice": false}, "axis": {"values": [0, 1, 2, 3], "title": null}},
    "y": {"field": "v", "type": "quantitative", "scale": {"domain": [-15, 5], "nice": false, "zero": false}, "axis": {"values": [-15, -10, -5, 0, 5], "labelExpr": "'' + datum.value", "title": null}},
    "color": {"field": "s", "type": "nominal", "scale": {"domain": ["FDT (exact)", "FDT (qG)", "FDT (GM)"], "range": ["#0072BD", "#00FF00", "#FF0000"]}}}},
  {"mark": {"type": "line", "strokeOpacity": 0}, "encoding": {
    "x": {"field": "t", "type": "quantitative", "axis": {"orient": "top", "values": [0, 1, 2, 3], "title": null}},
    "y": {"field": "v", "type": "quantitative", "axis": {"orient": "right", "values": [-15, -10, -5, 0, 5], "title": null}}}}
 ],
 "resolve": {"axis": {"x": "independent", "y": "independent"}}},
{"width": 591, "height": 467, "title": {"text": "(d)\u00a0\u00a0Response of the 4th moment"},
 "transform": [{"filter": "datum.p === 'd1'"}],
 "layer": [
  {"mark": "line", "encoding": {
    "x": {"field": "t", "type": "quantitative", "scale": {"domain": [0, 3], "nice": false}, "axis": {"values": [0, 1, 2, 3], "title": null}},
    "y": {"field": "v", "type": "quantitative", "scale": {"domain": [-60, 0], "nice": false, "zero": false}, "axis": {"values": [-60, -40, -20, 0], "labelExpr": "'' + datum.value", "title": null}},
    "color": {"field": "s", "type": "nominal", "scale": {"domain": ["FDT (exact)", "FDT (qG)", "FDT (GM)"], "range": ["#0072BD", "#00FF00", "#FF0000"]}}}},
  {"mark": {"type": "line", "strokeOpacity": 0}, "encoding": {
    "x": {"field": "t", "type": "quantitative", "axis": {"orient": "top", "values": [0, 1, 2, 3], "title": null}},
    "y": {"field": "v", "type": "quantitative", "axis": {"orient": "right", "values": [-60, -40, -20, 0], "title": null}}}}
 ],
 "resolve": {"axis": {"x": "independent", "y": "independent"}}},

{"width": 613, "height": 467,
 "transform": [{"filter": "datum.p === 'a2'"}],
 "layer": [
  {"mark": "line", "encoding": {
    "x": {"field": "t", "type": "quantitative", "scale": {"domain": [0, 3], "nice": false}, "axis": {"values": [0, 1, 2, 3], "title": null}},
    "y": {"field": "v", "type": "quantitative", "scale": {"domain": [-2, 0], "nice": false, "zero": false}, "axis": {"values": [-2, -1.5, -1, -0.5, 0], "labelExpr": "'' + datum.value", "title": "u₂", "titleAngle": 0, "titleFont": "Liberation Serif", "titleFontWeight": "bold", "titleFontSize": 96, "titleAlign": "center", "titleBaseline": "alphabetic", "titleX": -320, "titleY": 238}},
    "color": {"field": "s", "type": "nominal", "scale": {"domain": ["FDT (exact)", "FDT (qG)", "FDT (GM)"], "range": ["#0072BD", "#00FF00", "#FF0000"]}}}},
  {"mark": {"type": "line", "strokeOpacity": 0}, "encoding": {
    "x": {"field": "t", "type": "quantitative", "axis": {"orient": "top", "values": [0, 1, 2, 3], "title": null}},
    "y": {"field": "v", "type": "quantitative", "axis": {"orient": "right", "values": [-2, -1.5, -1, -0.5, 0], "title": null}}}}
 ],
 "resolve": {"axis": {"x": "independent", "y": "independent"}}},
{"width": 591, "height": 467,
 "transform": [{"filter": "datum.p === 'b2'"}],
 "layer": [
  {"mark": "line", "encoding": {
    "x": {"field": "t", "type": "quantitative", "scale": {"domain": [0, 3], "nice": false}, "axis": {"values": [0, 1, 2, 3], "title": null}},
    "y": {"field": "v", "type": "quantitative", "scale": {"domain": [-3, 0], "nice": false, "zero": false}, "axis": {"values": [-3, -2, -1, 0], "labelExpr": "'' + datum.value", "title": null}},
    "color": {"field": "s", "type": "nominal", "scale": {"domain": ["FDT (exact)", "FDT (qG)", "FDT (GM)"], "range": ["#0072BD", "#00FF00", "#FF0000"]}}}},
  {"mark": {"type": "line", "strokeOpacity": 0}, "encoding": {
    "x": {"field": "t", "type": "quantitative", "axis": {"orient": "top", "values": [0, 1, 2, 3], "title": null}},
    "y": {"field": "v", "type": "quantitative", "axis": {"orient": "right", "values": [-3, -2, -1, 0], "title": null}}}}
 ],
 "resolve": {"axis": {"x": "independent", "y": "independent"}}},
{"width": 600, "height": 467,
 "transform": [{"filter": "datum.p === 'c2'"}],
 "layer": [
  {"mark": "line", "encoding": {
    "x": {"field": "t", "type": "quantitative", "scale": {"domain": [0, 3], "nice": false}, "axis": {"values": [0, 1, 2, 3], "title": null}},
    "y": {"field": "v", "type": "quantitative", "scale": {"domain": [-10, 0], "nice": false, "zero": false}, "axis": {"values": [-10, -5, 0], "labelExpr": "'' + datum.value", "title": null}},
    "color": {"field": "s", "type": "nominal", "scale": {"domain": ["FDT (exact)", "FDT (qG)", "FDT (GM)"], "range": ["#0072BD", "#00FF00", "#FF0000"]}}}},
  {"mark": {"type": "line", "strokeOpacity": 0}, "encoding": {
    "x": {"field": "t", "type": "quantitative", "axis": {"orient": "top", "values": [0, 1, 2, 3], "title": null}},
    "y": {"field": "v", "type": "quantitative", "axis": {"orient": "right", "values": [-10, -5, 0], "title": null}}}}
 ],
 "resolve": {"axis": {"x": "independent", "y": "independent"}}},
{"width": 591, "height": 467,
 "transform": [{"filter": "datum.p === 'd2'"}],
 "layer": [
  {"mark": "line", "encoding": {
    "x": {"field": "t", "type": "quantitative", "scale": {"domain": [0, 3], "nice": false}, "axis": {"values": [0, 1, 2, 3], "title": null}},
    "y": {"field": "v", "type": "quantitative", "scale": {"domain": [-30, 0], "nice": false, "zero": false}, "axis": {"values": [-30, -20, -10, 0], "labelExpr": "'' + datum.value", "title": null}},
    "color": {"field": "s", "type": "nominal", "scale": {"domain": ["FDT (exact)", "FDT (qG)", "FDT (GM)"], "range": ["#0072BD", "#00FF00", "#FF0000"]}}}},
  {"mark": {"type": "line", "strokeOpacity": 0}, "encoding": {
    "x": {"field": "t", "type": "quantitative", "axis": {"orient": "top", "values": [0, 1, 2, 3], "title": null}},
    "y": {"field": "v", "type": "quantitative", "axis": {"orient": "right", "values": [-30, -20, -10, 0], "title": null}}}}
 ],
 "resolve": {"axis": {"x": "independent", "y": "independent"}}},

{"width": 613, "height": 467,
 "transform": [{"filter": "datum.p === 'a3'"}],
 "layer": [
  {"mark": "line", "encoding": {
    "x": {"field": "t", "type": "quantitative", "scale": {"domain": [0, 3], "nice": false}, "axis": {"values": [0, 1, 2, 3], "title": "t"}},
    "y": {"field": "v", "type": "quantitative", "scale": {"domain": [-1, 0.5], "nice": false, "zero": false}, "axis": {"values": [-1, -0.5, 0, 0.5], "labelExpr": "'' + datum.value", "title": "τ", "titleAngle": 0, "titleFont": "Liberation Serif", "titleFontWeight": "bold", "titleFontSize": 100, "titleAlign": "center", "titleBaseline": "alphabetic", "titleX": -318, "titleY": 289}},
    "color": {"field": "s", "type": "nominal", "scale": {"domain": ["FDT (exact)", "FDT (qG)", "FDT (GM)"], "range": ["#0072BD", "#00FF00", "#FF0000"]}}}},
  {"mark": {"type": "line", "strokeOpacity": 0}, "encoding": {
    "x": {"field": "t", "type": "quantitative", "axis": {"orient": "top", "values": [0, 1, 2, 3], "title": null}},
    "y": {"field": "v", "type": "quantitative", "axis": {"orient": "right", "values": [-1, -0.5, 0, 0.5], "title": null}}}}
 ],
 "resolve": {"axis": {"x": "independent", "y": "independent"}}},
{"width": 591, "height": 467,
 "transform": [{"filter": "datum.p === 'b3'"}],
 "layer": [
  {"mark": "line", "encoding": {
    "x": {"field": "t", "type": "quantitative", "scale": {"domain": [0, 3], "nice": false}, "axis": {"values": [0, 1, 2, 3], "title": "t"}},
    "y": {"field": "v", "type": "quantitative", "scale": {"domain": [-10, 5], "nice": false, "zero": false}, "axis": {"values": [-10, -5, 0, 5], "labelExpr": "'' + datum.value", "title": null}},
    "color": {"field": "s", "type": "nominal", "scale": {"domain": ["FDT (exact)", "FDT (qG)", "FDT (GM)"], "range": ["#0072BD", "#00FF00", "#FF0000"]}}}},
  {"mark": {"type": "line", "strokeOpacity": 0}, "encoding": {
    "x": {"field": "t", "type": "quantitative", "axis": {"orient": "top", "values": [0, 1, 2, 3], "title": null}},
    "y": {"field": "v", "type": "quantitative", "axis": {"orient": "right", "values": [-10, -5, 0, 5], "title": null}}}}
 ],
 "resolve": {"axis": {"x": "independent", "y": "independent"}}},
{"width": 600, "height": 467,
 "transform": [{"filter": "datum.p === 'c3'"}],
 "layer": [
  {"mark": "line", "encoding": {
    "x": {"field": "t", "type": "quantitative", "scale": {"domain": [0, 3], "nice": false}, "axis": {"values": [0, 1, 2, 3], "title": "t"}},
    "y": {"field": "v", "type": "quantitative", "scale": {"domain": [-15, 5], "nice": false, "zero": false}, "axis": {"values": [-15, -10, -5, 0, 5], "labelExpr": "'' + datum.value", "title": null}},
    "color": {"field": "s", "type": "nominal", "scale": {"domain": ["FDT (exact)", "FDT (qG)", "FDT (GM)"], "range": ["#0072BD", "#00FF00", "#FF0000"]}}}},
  {"mark": {"type": "line", "strokeOpacity": 0}, "encoding": {
    "x": {"field": "t", "type": "quantitative", "axis": {"orient": "top", "values": [0, 1, 2, 3], "title": null}},
    "y": {"field": "v", "type": "quantitative", "axis": {"orient": "right", "values": [-15, -10, -5, 0, 5], "title": null}}}}
 ],
 "resolve": {"axis": {"x": "independent", "y": "independent"}}},
{"width": 591, "height": 467,
 "transform": [{"filter": "datum.p === 'd3'"}],
 "layer": [
  {"mark": "line", "encoding": {
    "x": {"field": "t", "type": "quantitative", "scale": {"domain": [0, 3], "nice": false}, "axis": {"values": [0, 1, 2, 3], "title": "t"}},
    "y": {"field": "v", "type": "quantitative", "scale": {"domain": [-100, 50], "nice": false, "zero": false}, "axis": {"values": [-100, -50, 0, 50], "labelExpr": "'' + datum.value", "title": null}},
    "color": {"field": "s", "type": "nominal", "scale": {"domain": ["FDT (exact)", "FDT (qG)", "FDT (GM)"], "range": ["#0072BD", "#00FF00", "#FF0000"]}}}},
  {"mark": {"type": "line", "strokeOpacity": 0}, "encoding": {
    "x": {"field": "t", "type": "quantitative", "axis": {"orient": "top", "values": [0, 1, 2, 3], "title": null}},
    "y": {"field": "v", "type": "quantitative", "axis": {"orient": "right", "values": [-100, -50, 0, 50], "title": null}}}}
 ],
 "resolve": {"axis": {"x": "independent", "y": "independent"}}}
],
"config": {
  "view": {"stroke": "black", "strokeWidth": 3.5},
  "line": {"strokeWidth": 10, "interpolate": "monotone"},
  "axis": {"domain": false, "grid": false, "ticks": true, "tickSize": -9, "tickWidth": 3, "tickColor": "black", "labelFont": "Liberation Sans", "labelFontSize": 50, "labelColor": "black", "titleFont": "Liberation Sans", "titleFontWeight": "normal", "titleFontSize": 52, "titleColor": "black", "titlePadding": 6},
  "axisBottom": {"labelPadding": 20},
  "axisLeft": {"labelPadding": 18},
  "axisTop": {"labels": false},
  "axisRight": {"labels": false},
  "legend": {"strokeWidth": 3},
  "title": {"font": "Liberation Serif", "fontWeight": "bold", "fontSize": 50, "color": "black", "offset": 5, "baseline": "alphabetic", "anchor": "middle"}
}
}
